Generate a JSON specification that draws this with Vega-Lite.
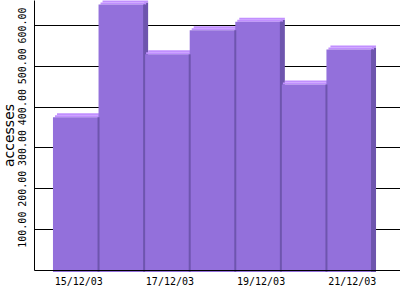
{
  "$schema": "https://vega.github.io/schema/vega-lite/v6.json",
  "width": 366,
  "height": 270,
  "autosize": {"type": "none"},
  "padding": {"left": 34, "top": 0, "right": 0, "bottom": 30},
  "background": "white",
  "config": {"view": {"stroke": null}},
  "data": {
    "values": [
      {"date": "15/12/03", "accesses": 374},
      {"date": "16/12/03", "accesses": 650},
      {"date": "17/12/03", "accesses": 528},
      {"date": "18/12/03", "accesses": 587},
      {"date": "19/12/03", "accesses": 608},
      {"date": "20/12/03", "accesses": 454},
      {"date": "21/12/03", "accesses": 540}
    ]
  },
  "encoding": {
    "x": {
      "field": "date",
      "type": "ordinal",
      "sort": null,
      "scale": {"paddingInner": 0, "paddingOuter": 0.515, "align": 0.404},
      "axis": {
        "title": null,
        "values": ["15/12/03", "17/12/03", "19/12/03", "21/12/03"],
        "labelAngle": 0,
        "labelFont": "DejaVu Sans Mono",
        "labelFontSize": 10,
        "labelColor": "black",
        "labelOffset": 3,
        "labelPadding": 6,
        "ticks": false,
        "domainColor": "black",
        "domainWidth": 1,
        "zindex": 1
      }
    },
    "y": {
      "field": "accesses",
      "type": "quantitative",
      "scale": {"domain": [0, 661], "nice": false},
      "axis": {
        "title": "accesses",
        "titleFont": "DejaVu Sans",
        "titleFontSize": 14,
        "titleFontWeight": "normal",
        "titleColor": "black",
        "titlePadding": 1,
        "values": [100, 200, 300, 400, 500, 600],
        "format": ".2f",
        "labelAngle": -90,
        "labelFont": "DejaVu Sans Mono",
        "labelFontSize": 10,
        "labelColor": "black",
        "labelPadding": 7,
        "ticks": false,
        "grid": true,
        "gridColor": "black",
        "gridOpacity": 1,
        "gridWidth": 1,
        "domainColor": "black"
      }
    }
  },
  "layer": [
    {
      "mark": {"type": "rule", "color": "#6e55ae", "strokeWidth": 4, "xOffset": 2, "yOffset": -2, "y2Offset": 2},
      "encoding": {
        "x": {"field": "date", "type": "ordinal", "sort": null, "bandPosition": 1},
        "y2": {"datum": 0}
      }
    },
    {
      "mark": {"type": "bar", "color": "#c18fff", "xOffset": 4, "yOffset": -4, "y2Offset": -2},
      "encoding": {"y2": {"field": "accesses"}}
    },
    {
      "mark": {"type": "bar", "color": "#c18fff", "xOffset": 2, "yOffset": -2, "y2Offset": 0},
      "encoding": {"y2": {"field": "accesses"}}
    },
    {
      "mark": {"type": "bar", "color": "#9370db", "y2Offset": 2},
      "encoding": {"y2": {"datum": 0}}
    },
    {
      "mark": {"type": "rule", "color": "#6e55ae", "strokeWidth": 2, "y2Offset": 2},
      "encoding": {
        "x": {"field": "date", "type": "ordinal", "sort": null, "bandPosition": 1},
        "y2": {"datum": 0}
      }
    }
  ]
}
